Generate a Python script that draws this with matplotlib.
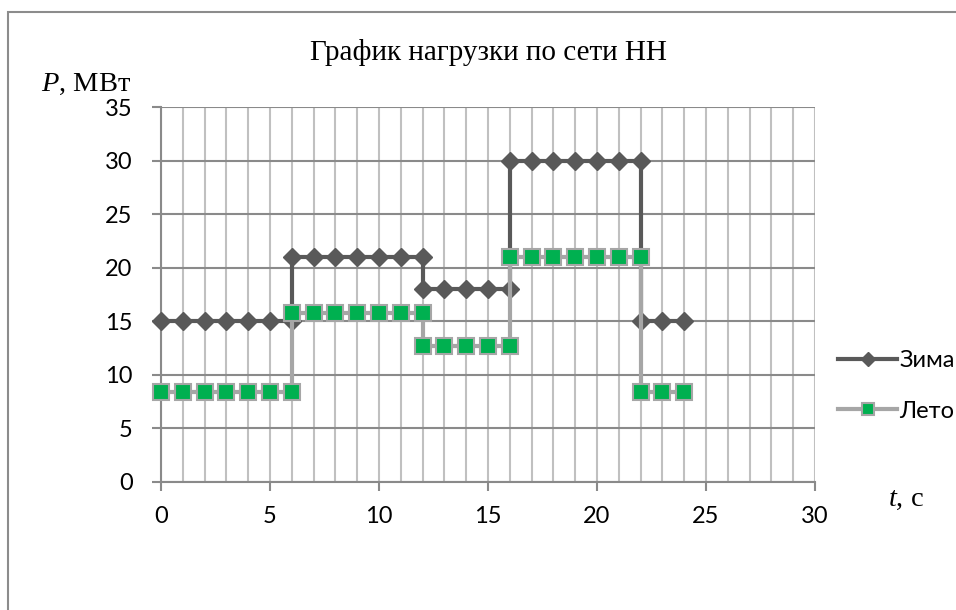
import matplotlib.pyplot as plt
from matplotlib.ticker import MultipleLocator
from matplotlib.patches import Rectangle

# Data: step load profile (points duplicated at the switching moments)
t_winter = [0, 1, 2, 3, 4, 5, 6,
            6, 7, 8, 9, 10, 11, 12,
            12, 13, 14, 15, 16,
            16, 17, 18, 19, 20, 21, 22,
            22, 23, 24]
p_winter = [15] * 7 + [21] * 7 + [18] * 5 + [30] * 7 + [15] * 3

t_summer = list(t_winter)
p_summer = [8.4] * 7 + [15.8] * 7 + [12.7] * 5 + [21] * 7 + [8.4] * 3

x_ticks = [0, 5, 10, 15, 20, 25, 30]
y_ticks = [0, 5, 10, 15, 20, 25, 30, 35]

title = "График нагрузки по сети НН"
labels = ["Зима", "Лето"]

plt.rcParams["mathtext.fontset"] = "custom"
plt.rcParams["mathtext.rm"] = "Liberation Serif"
plt.rcParams["mathtext.it"] = "Liberation Serif:italic"

tick_font = ["Lato", "DejaVu Sans"]
serif_font = ["Liberation Serif", "DejaVu Serif"]

fig = plt.figure(figsize=(9.56, 6.1), dpi=100)
ax = fig.add_axes([161 / 956, 1 - 482 / 610, (815 - 161) / 956, (482 - 107) / 610])

# outer chart border
fig.patches.append(Rectangle((8 / 956, -0.1), 1.2, 1 - 12 / 610 + 0.1,
                             transform=fig.transFigure, fill=False,
                             edgecolor="#8c8c8c", linewidth=1.5))

ax.set_xlim(0, 30)
ax.set_ylim(0, 35)
ax.xaxis.set_major_locator(MultipleLocator(5))
ax.xaxis.set_minor_locator(MultipleLocator(1))
ax.yaxis.set_major_locator(MultipleLocator(5))

ax.grid(which="minor", axis="x", color="#c0c0c0", linewidth=1.5)
ax.grid(which="major", axis="x", color="#c0c0c0", linewidth=1.5)
ax.grid(which="major", axis="y", color="#8a8a8a", linewidth=1.5)
ax.set_axisbelow(True)

for s in ["top", "right"]:
    ax.spines[s].set_visible(False)
for s in ["left", "bottom"]:
    ax.spines[s].set_color("#8a8a8a")
    ax.spines[s].set_linewidth(1.5)

ax.tick_params(which="major", length=6.5, width=1.5, color="#8a8a8a",
               labelsize=17)
ax.tick_params(axis="x", pad=11)
ax.tick_params(axis="y", pad=14)
ax.tick_params(which="minor", length=0)
ax.set_xticks(x_ticks)
ax.set_yticks(y_ticks)
for lab in ax.get_xticklabels() + ax.get_yticklabels():
    lab.set_family(tick_font)

# markers at x=0 stick out past the axis, as in the original
ax.plot(t_winter, p_winter, color="#595959", linewidth=3, marker="D",
        markersize=8.7, markerfacecolor="#595959", markeredgecolor="#595959",
        label=labels[0], zorder=3, clip_on=False)
ax.plot(t_summer, p_summer, color="#a6a6a6", linewidth=3, marker="s",
        markersize=11, markerfacecolor="#00b050", markeredgecolor="#a6a6a6",
        markeredgewidth=1.5, label=labels[1], zorder=4, clip_on=False)

fig.text(488 / 956, 1 - 53 / 610, title, ha="center", va="center",
         fontsize=21, family=serif_font)
fig.text(41 / 956, 1 - 84 / 610, r"$\it{P}$, МВт", ha="left", va="center",
         fontsize=20.5, family=serif_font)
fig.text(906 / 956, 1 - 500 / 610, r"$\it{t}$, с", ha="center", va="center",
         fontsize=20.5, family=serif_font)

leg = fig.legend(loc="center left", bbox_to_anchor=(838 / 956, 1 - 386 / 610),
                 frameon=False, prop={"family": tick_font, "size": 17},
                 handlelength=2.5, handletextpad=0.1, labelspacing=1.25,
                 borderpad=0, borderaxespad=0, markerscale=0.85)

fig.savefig("out.png", dpi=100)
